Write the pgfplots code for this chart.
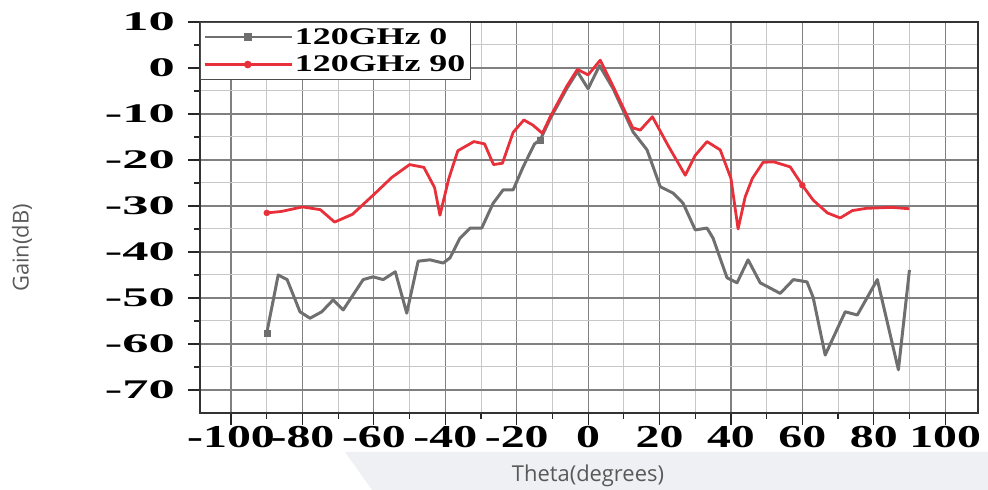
\documentclass[border=0pt]{standalone}
\usepackage{fontspec}
\usepackage{pgfplots}
\pgfplotsset{compat=1.18}
\setmainfont{Liberation Serif}
\newfontfamily\xtf[FakeStretch=1.5]{Liberation Serif}
\newfontfamily\ytf[FakeStretch=1.95]{Liberation Serif}
\newfontfamily\lgf[FakeStretch=1.5]{Liberation Serif}
\newfontfamily\labf{Open Sans}
\definecolor{cgray}{HTML}{6F6F6F}
\definecolor{cred}{HTML}{E8303A}
\definecolor{bgshape}{HTML}{EFF0F4}
\definecolor{labcol}{HTML}{595959}
\begin{document}
\begin{tikzpicture}[x=1bp,y=1bp]
\path[use as bounding box] (0,0) rectangle (988,490);
\fill[bgshape] (345,38) -- (988,38) -- (988,0) -- (372,0) -- cycle;
\begin{axis}[
  at={(200bp,77bp)}, anchor=south west,
  scale only axis, width=778bp, height=391bp,
  xmin=-108.7, xmax=109.2, ymin=-75, ymax=10,
  xtick={-100,-80,...,100},
  xticklabels={-100,-80,-60,-40,-20,0,20,40,60,80,100},
  ytick={-70,-60,...,10},
  yticklabels={-70,-60,-50,-40,-30,-20,-10,0,10},
  minor x tick num=1, minor y tick num=1,
  grid=both,
  major grid style={draw=black!50, line width=1.2bp},
  minor grid style={draw=black!22, line width=1bp},
  tick align=outside, tick pos=left,
  major tick length=12bp, minor tick length=6bp,
  every tick/.style={black!85, line width=1.2bp},
  axis line style={draw=black!80, line width=1.5bp},
  xticklabel style={font=\xtf\bfseries\fontsize{32}{32}\selectfont, inner sep=1bp},
  yticklabel style={font=\ytf\bfseries\fontsize{27}{27}\selectfont, inner sep=1bp, xshift=-12bp},
  xlabel={Theta(degrees)},
  ylabel={Gain(dB)},
  xlabel style={font=\labf\fontsize{22}{22}\selectfont, text=labcol, at={(rel axis cs:0.4987,-0.161)}, anchor=center},
  ylabel style={font=\labf\fontsize{22}{22}\selectfont, text=labcol, at={(rel axis cs:-0.2288,0.422)}, anchor=center},
  legend image code/.code={\draw[mark repeat=2,mark phase=2,#1] plot coordinates {(0bp,0bp) (43bp,0bp) (87bp,0bp)};},
  legend style={at={(rel axis cs:0,1)}, anchor=north west, draw=black!70, line width=1bp, fill=white,
    font=\lgf\bfseries\fontsize{24}{24}\selectfont, inner xsep=3bp, inner ysep=4bp, row sep=6bp,
    cells={anchor=west}},
]
\addlegendimage{cgray, line width=2.5bp, mark=square*, mark size=2.5bp}
\addlegendentry{120GHz 0}
\addlegendimage{cred, line width=2.5bp, mark=*, mark size=2.5bp}
\addlegendentry{120GHz 90}

\addplot[cgray, line width=3bp, line join=round, forget plot] coordinates {
(-90,-57.6) (-86.8,-45) (-84.3,-46) (-80.7,-53) (-77.9,-54.4) (-74.6,-53) (-71.4,-50.4)
(-68.6,-52.6) (-63,-46) (-60.2,-45.4) (-57.4,-46) (-54,-44.3) (-50.8,-53.3) (-47.6,-42)
(-44.3,-41.7) (-40.6,-42.4) (-38.7,-41.3) (-35.9,-37) (-33,-34.8) (-29.8,-34.8) (-26.6,-29.4)
(-23.8,-26.5) (-21,-26.5) (-18.2,-21.5) (-15,-16.5) (-13.4,-15.6) (-10.6,-11) (-6,-4.5)
(-3,-0.8) (0,-4.5) (3.2,0.5) (7,-4.5) (12.6,-13.9) (16.5,-17.8) (20.2,-25.8) (23.8,-27.2)
(26.6,-29.4) (30,-35.2) (33.3,-34.8) (35,-37) (38.9,-45.6) (41.7,-46.7) (44.8,-41.7)
(48.2,-46.7) (53.8,-49) (57.5,-46) (61.3,-46.5) (63,-49.8) (66.4,-62.4) (72,-53)
(75.4,-53.7) (81,-46) (86.9,-65.6) (90,-43.9)
};
\addplot[cred, line width=2.8bp, line join=round, forget plot] coordinates {
(-90,-31.5) (-86,-31.2) (-80,-30.2) (-75,-30.8) (-71,-33.5) (-66,-31.8) (-60,-27.5)
(-55,-23.8) (-50,-21) (-46,-21.6) (-43,-26) (-41.5,-32) (-39,-24) (-36.5,-18) (-32,-16)
(-29,-16.5) (-26.5,-21) (-24,-20.7) (-21,-14) (-18,-11.3) (-15.5,-12.4) (-12.8,-14.2)
(-10.6,-10.6) (-6,-4) (-3,-0.3) (0,-1.5) (3.4,1.7) (7,-4) (12.5,-13) (14.6,-13.5)
(18,-10.6) (22.5,-17) (27.2,-23.3) (30,-19) (33.3,-16) (37,-17.8) (40,-24) (42,-35)
(44,-28) (46,-24) (49,-20.5) (52,-20.4) (56.6,-21.5) (60,-25.5) (63,-28.7) (67,-31.5)
(70.6,-32.6) (74,-31) (78,-30.5) (85,-30.3) (90,-30.6)
};
\addplot[only marks, cgray, mark=square*, mark size=3bp, forget plot] coordinates {(-90,-57.6) (-13.4,-15.6)};
\addplot[only marks, cred, mark=*, mark size=3bp, forget plot] coordinates {(-90,-31.5) (60,-25.5)};
\end{axis}
\end{tikzpicture}
\end{document}
